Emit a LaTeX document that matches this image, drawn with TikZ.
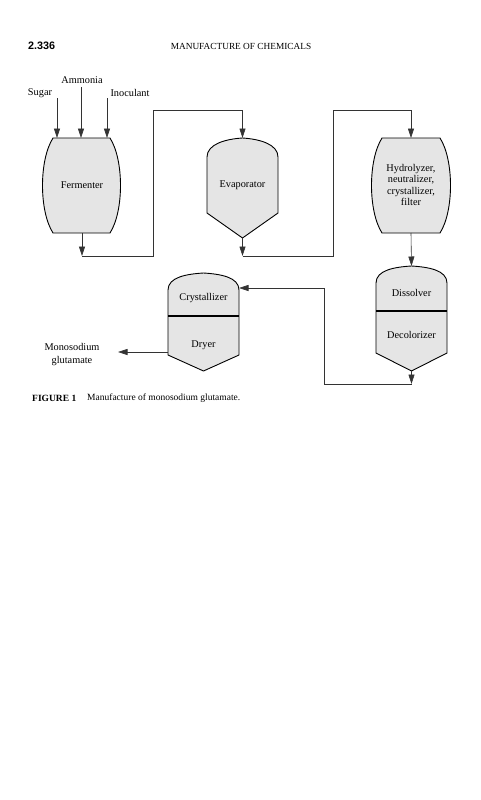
\documentclass[tikz,border=0pt]{standalone}
\usepackage{fontspec}
\setmainfont{Liberation Serif}
\newfontfamily\headfont{Liberation Sans}
\usetikzlibrary{arrows.meta}

\begin{document}
\begin{tikzpicture}[x=1pt,y=-1pt,>={Triangle[length=9.5pt,width=6pt]},
  vessel/.style={draw,line width=0.9pt,fill=black!10},
  divider/.style={line width=1.3pt},
  pipe/.style={draw=black!80,line width=0.6pt},
  label/.style={font=\fontsize{10.3}{11.5}\selectfont,align=center,inner sep=0pt}]

  \useasboundingbox (0,0) rectangle (481,800);

  % page head
  \node[anchor=west,inner sep=0pt,font=\headfont\bfseries\fontsize{10.8}{12}\selectfont] (page) at (28,46) {2.336};
  \node[inner sep=0pt,font=\fontsize{9.3}{11}\selectfont] (head) at (241,46) {MANUFACTURE OF CHEMICALS};

  % vessels
  \draw[vessel] (53,138) -- (110,138) .. controls (124,160) and (124,211) .. (110,233)
    -- (53,233) .. controls (39,211) and (39,160) .. (53,138) -- cycle;
  \draw[vessel] (207,157) .. controls (207,144) and (226,139) .. (242.5,138)
    .. controls (259,139) and (278,144) .. (278,157) -- (278,213) -- (242.5,238) -- (207,213) -- cycle;
  \draw[vessel] (382,138) -- (440,138) .. controls (454,160) and (454,211) .. (440,233)
    -- (382,233) .. controls (368,211) and (368,160) .. (382,138) -- cycle;
  \draw[vessel] (376,283) .. controls (376,270) and (395,267) .. (411.5,266)
    .. controls (428,267) and (447,270) .. (447,283) -- (447,353) -- (411.5,371) -- (376,353) -- cycle;
  \draw[divider] (376,311) -- (447,311);
  \draw[vessel] (168,290) .. controls (168,277) and (187,274) .. (203.5,273)
    .. controls (220,274) and (239,277) .. (239,290) -- (239,355) -- (203.5,371) -- (168,355) -- cycle;
  \draw[divider] (168,316) -- (239,316);

  % texts
  \node[label] (sugar)     at (40,93)  {Sugar};
  \node[label] (ammonia)   at (82,80)  {Ammonia};
  \node[label] (inoculant) at (130,93) {Inoculant};
  \node[label] (ferm)      at (82,185) {Fermenter};
  \node[label] (evap)      at (242.5,185) {Evaporator};
  \node[label] (hydro)     at (411,185) {Hydrolyzer,\\neutralizer,\\crystallizer,\\filter};
  \node[label] (diss)      at (411.5,293) {Dissolver};
  \node[label] (decol)     at (411.5,335) {Decolorizer};
  \node[label] (cryst)     at (203.5,298) {Crystallizer};
  \node[label] (dryer)     at (203.5,345) {Dryer};
  \node[label,font=\fontsize{10.3}{13}\selectfont] (msg) at (72,355) {Monosodium\\glutamate};

  % ports
  \coordinate (sugar-in) at (57,98);
  \coordinate (amm-in)   at (81,87);
  \coordinate (ino-in)   at (107,98);
  \coordinate (ferm-out) at (82,233);
  \coordinate (evap-in)  at (242.5,138);
  \coordinate (evap-out) at (242.5,238);
  \coordinate (hydro-in) at (411,138);
  \coordinate (hydro-out) at (411,233);
  \coordinate (diss-in)  at (411.5,266);
  \coordinate (diss-out) at (411.5,371);
  \coordinate (cryst-in) at (239,288);
  \coordinate (dryer-out) at (168,352);
  \coordinate (prod)     at (118,352);

  % streams
  \draw[pipe,->] (sugar-in) -- (57,138);
  \draw[pipe,->] (amm-in) -- (81,138);
  \draw[pipe,->] (ino-in) -- (107,138);
  \draw[pipe,->] (ferm-out) -- (82,256);
  \draw[pipe,->] (82,256) -- (153,256) -- (153,110) -- (242.5,110) -- (evap-in);
  \draw[pipe,->] (evap-out) -- (242.5,256);
  \draw[pipe,->] (242.5,256) -- (333,256) -- (333,110) -- (411,110) -- (hydro-in);
  \draw[pipe,->] (hydro-out) -- (diss-in);
  \draw[pipe,->] (diss-out) -- (411.5,384);
  \draw[pipe,->] (411.5,384) -- (324,384) -- (324,288) -- (cryst-in);
  \draw[pipe,->] (dryer-out) -- (prod);

  % caption
  \node[anchor=west,inner sep=0pt,font=\bfseries\fontsize{9.5}{11}\selectfont] (fig) at (32,398) {FIGURE 1};
  \node[anchor=west,inner sep=0pt,font=\fontsize{9.5}{11}\selectfont] (cap) at (87,398) {Manufacture of monosodium glutamate.};
\end{tikzpicture}
\end{document}
